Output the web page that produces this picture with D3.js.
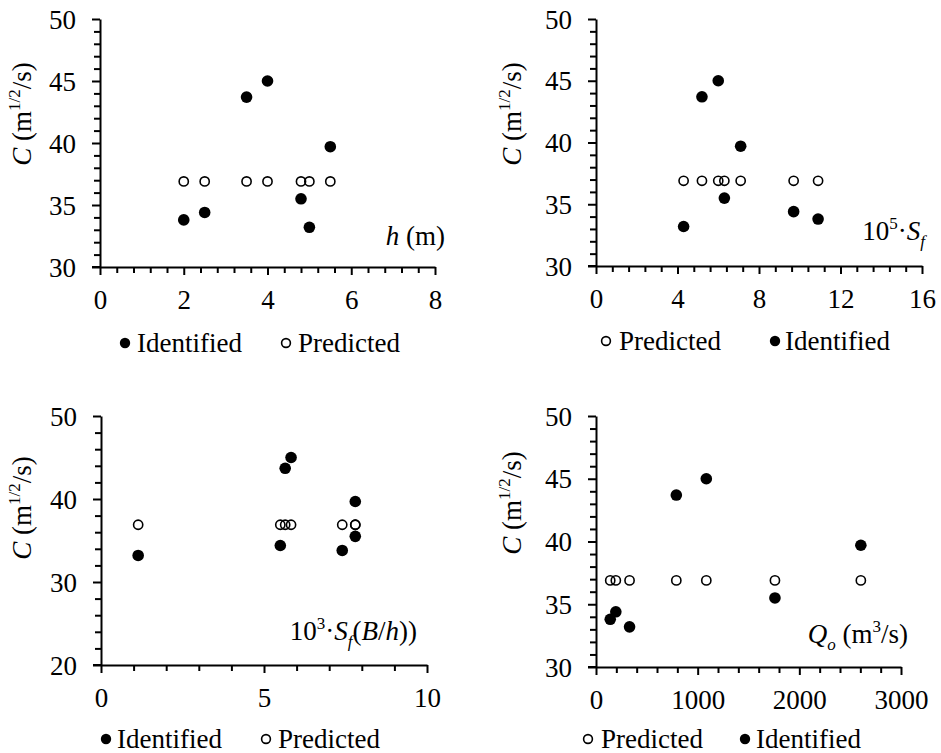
<!DOCTYPE html>
<html>
<head>
<meta charset="utf-8">
<script src="https://cdn.jsdelivr.net/npm/d3@7"></script>
<style>
  html, body { margin: 0; padding: 0; background: #fff; }
  svg text { font-family: "Liberation Serif", "Times New Roman", Times, "DejaVu Serif", "Noto Serif", serif; fill: #000; }
</style>
</head>
<body>
<svg id="chart" width="941" height="753"></svg>
<script>
// ---- Data (7 sites) ----
const identifiedC = [33.8, 34.4, 43.7, 45.0, 35.5, 33.2, 39.7];
const predictedC  = [36.9, 36.9, 36.9, 36.9, 36.9, 36.9, 36.9];
const depthH      = [2, 2.5, 3.5, 4, 4.8, 5, 5.5];
const slopeSf     = [10.9, 9.7, 5.2, 6.0, 6.3, 4.3, 7.1];
const slopeSfBh   = [7.4, 5.5, 5.65, 5.83, 7.8, 1.14, 7.8];
const dischargeQo = [140, 195, 790, 1085, 1760, 330, 2605];

const xTicksH  = [0, 2, 4, 6, 8];
const xTicksSf = [0, 4, 8, 12, 16];
const xTicksSfBh = [0, 5, 10];
const xTicksQo = [0, 1000, 2000, 3000];
const yTicksA  = [30, 35, 40, 45, 50];
const yTicksB  = [20, 30, 40, 50];

const svg = d3.select("#chart");
const FS = 27;
const FONT = '"Liberation Serif", "Times New Roman", Times, "DejaVu Serif", "Noto Serif", serif';

function minorTicks(domain, step, majors) {
  const out = [];
  for (let v = domain[0]; v <= domain[1] + 1e-9; v += step) {
    const r = Math.round(v * 1000) / 1000;
    if (!majors.some(m => Math.abs(m - r) < 1e-6)) out.push(r);
  }
  return out;
}

function addRich(textSel, parts) {
  parts.forEach(p => {
    const t = textSel.append("tspan").text(p.t);
    if (p.i) t.attr("font-style", "italic");
    if (p.sup) t.attr("font-size", 17).attr("dy", -11);
    if (p.sub) t.attr("font-size", 17).attr("dy", 7);
    if (p.back) t.attr("dy", p.back);
  });
}

function panel(cfg) {
  const x = d3.scaleLinear().domain(cfg.xDomain).range(cfg.xRange);
  const y = d3.scaleLinear().domain(cfg.yDomain).range(cfg.yRange);
  const g = svg.append("g").attr("font-family", FONT);
  const ax = cfg.xRange[0], ay = cfg.yRange[0];

  // minor ticks
  g.append("g").attr("transform", `translate(0,${ay})`)
    .call(d3.axisBottom(x).tickValues(minorTicks(cfg.xDomain, cfg.xMinor, cfg.xTicks)).tickSize(6).tickFormat(""))
    .call(s => s.select(".domain").remove())
    .call(s => s.selectAll("line").attr("stroke-width", 2));
  g.append("g").attr("transform", `translate(${ax},0)`)
    .call(d3.axisLeft(y).tickValues(minorTicks(cfg.yDomain, cfg.yMinor, cfg.yTicks)).tickSize(6).tickFormat(""))
    .call(s => s.select(".domain").remove())
    .call(s => s.selectAll("line").attr("stroke-width", 2));

  // major axes
  g.append("g").attr("transform", `translate(0,${ay})`)
    .call(d3.axisBottom(x).tickValues(cfg.xTicks).tickSizeInner(8).tickSizeOuter(0).tickFormat(d3.format("d")))
    .attr("font-family", FONT)
    .call(s => s.select(".domain").attr("stroke-width", 2))
    .call(s => s.selectAll("line").attr("stroke-width", 2))
    .call(s => s.selectAll("text").attr("font-size", FS).attr("y", 42).attr("dy", null));
  g.append("g").attr("transform", `translate(${ax},0)`)
    .call(d3.axisLeft(y).tickValues(cfg.yTicks).tickSizeInner(8).tickSizeOuter(0).tickFormat(d3.format("d")))
    .attr("font-family", FONT)
    .call(s => s.select(".domain").attr("stroke-width", 2))
    .call(s => s.selectAll("line").attr("stroke-width", 2))
    .call(s => s.selectAll("text").attr("font-size", FS).attr("x", -24).attr("dy", "0.34em"));
  g.append("line").attr("x1", ax - 8).attr("x2", ax).attr("y1", ay).attr("y2", ay)
    .attr("stroke", "#000").attr("stroke-width", 2);

  // data
  const pts = cfg.xs.map((v, i) => ({ x: v, id: identifiedC[i], pr: predictedC[i] }));
  g.append("g").selectAll("circle").data(pts).join("circle")
    .attr("cx", d => x(d.x)).attr("cy", d => y(d.pr)).attr("r", 4.6)
    .attr("fill", "none").attr("stroke", "#000").attr("stroke-width", 1.6);
  g.append("g").selectAll("circle").data(pts).join("circle")
    .attr("cx", d => x(d.x)).attr("cy", d => y(d.id)).attr("r", 5.8)
    .attr("fill", "#000");

  // y title
  const yt = g.append("text").attr("font-size", FS).attr("text-anchor", "middle")
    .attr("transform", `translate(${cfg.yTitle[0]},${cfg.yTitle[1]}) rotate(-90)`);
  addRich(yt, [{ t: "C", i: true }, { t: " (m" }, { t: "1/2", sup: true }, { t: "/s)", back: 11 }]);

  // x title (inside plot)
  const xt = g.append("text").attr("font-size", FS).attr("text-anchor", "end")
    .attr("x", cfg.xTitle[0]).attr("y", cfg.xTitle[1]);
  addRich(xt, cfg.xTitleParts);

  // legend
  cfg.legend.forEach(l => {
    if (l.kind === "id") {
      g.append("circle").attr("cx", l.mx).attr("cy", l.y - 9).attr("r", 5.2).attr("fill", "#000");
      g.append("text").attr("x", l.tx).attr("y", l.y).attr("font-size", FS).text("Identified");
    } else {
      g.append("circle").attr("cx", l.mx).attr("cy", l.y - 9).attr("r", 4.4)
        .attr("fill", "none").attr("stroke", "#000").attr("stroke-width", 1.6);
      g.append("text").attr("x", l.tx).attr("y", l.y).attr("font-size", FS).text("Predicted");
    }
  });
}

panel({
  xDomain: [0, 8], xRange: [100, 435], xTicks: xTicksH, xMinor: 0.4,
  yDomain: [30, 50], yRange: [267, 19], yTicks: yTicksA, yMinor: 1,
  xs: depthH, yTitle: [31, 114], xTitle: [445, 245],
  xTitleParts: [{ t: "h", i: true }, { t: " (m)" }],
  legend: [{ kind: "id", mx: 125, tx: 137, y: 352 }, { kind: "pr", mx: 286, tx: 298, y: 352 }]
});

panel({
  xDomain: [0, 16], xRange: [596, 922], xTicks: xTicksSf, xMinor: 0.8,
  yDomain: [30, 50], yRange: [266, 19], yTicks: yTicksA, yMinor: 1,
  xs: slopeSf, yTitle: [521, 114], xTitle: [925, 240],
  xTitleParts: [{ t: "10" }, { t: "5", sup: true }, { t: "·", back: 11 }, { t: "S", i: true }, { t: "f", i: true, sub: true }],
  legend: [{ kind: "pr", mx: 606, tx: 619, y: 350 }, { kind: "id", mx: 775, tx: 785, y: 350 }]
});

panel({
  xDomain: [0, 10], xRange: [101, 427], xTicks: xTicksSfBh, xMinor: 1,
  yDomain: [20, 50], yRange: [665, 416], yTicks: yTicksB, yMinor: 2,
  xs: slopeSfBh, yTitle: [31, 508], xTitle: [417, 640],
  xTitleParts: [{ t: "10" }, { t: "3", sup: true }, { t: "·", back: 11 }, { t: "S", i: true }, { t: "f", i: true, sub: true },
                { t: "(", back: -7 }, { t: "B", i: true }, { t: "/" }, { t: "h", i: true }, { t: "))" }],
  legend: [{ kind: "id", mx: 106, tx: 117, y: 748 }, { kind: "pr", mx: 266, tx: 278, y: 748 }]
});

panel({
  xDomain: [0, 3000], xRange: [596, 901], xTicks: xTicksQo, xMinor: 200,
  yDomain: [30, 50], yRange: [667, 416], yTicks: yTicksA, yMinor: 1,
  xs: dischargeQo, yTitle: [521, 503], xTitle: [908, 643],
  xTitleParts: [{ t: "Q", i: true }, { t: "o", i: true, sub: true }, { t: " (m", back: -7 }, { t: "3", sup: true }, { t: "/s)", back: 11 }],
  legend: [{ kind: "pr", mx: 588, tx: 601, y: 748 }, { kind: "id", mx: 745, tx: 756, y: 748 }]
});
</script>
</body>
</html>
